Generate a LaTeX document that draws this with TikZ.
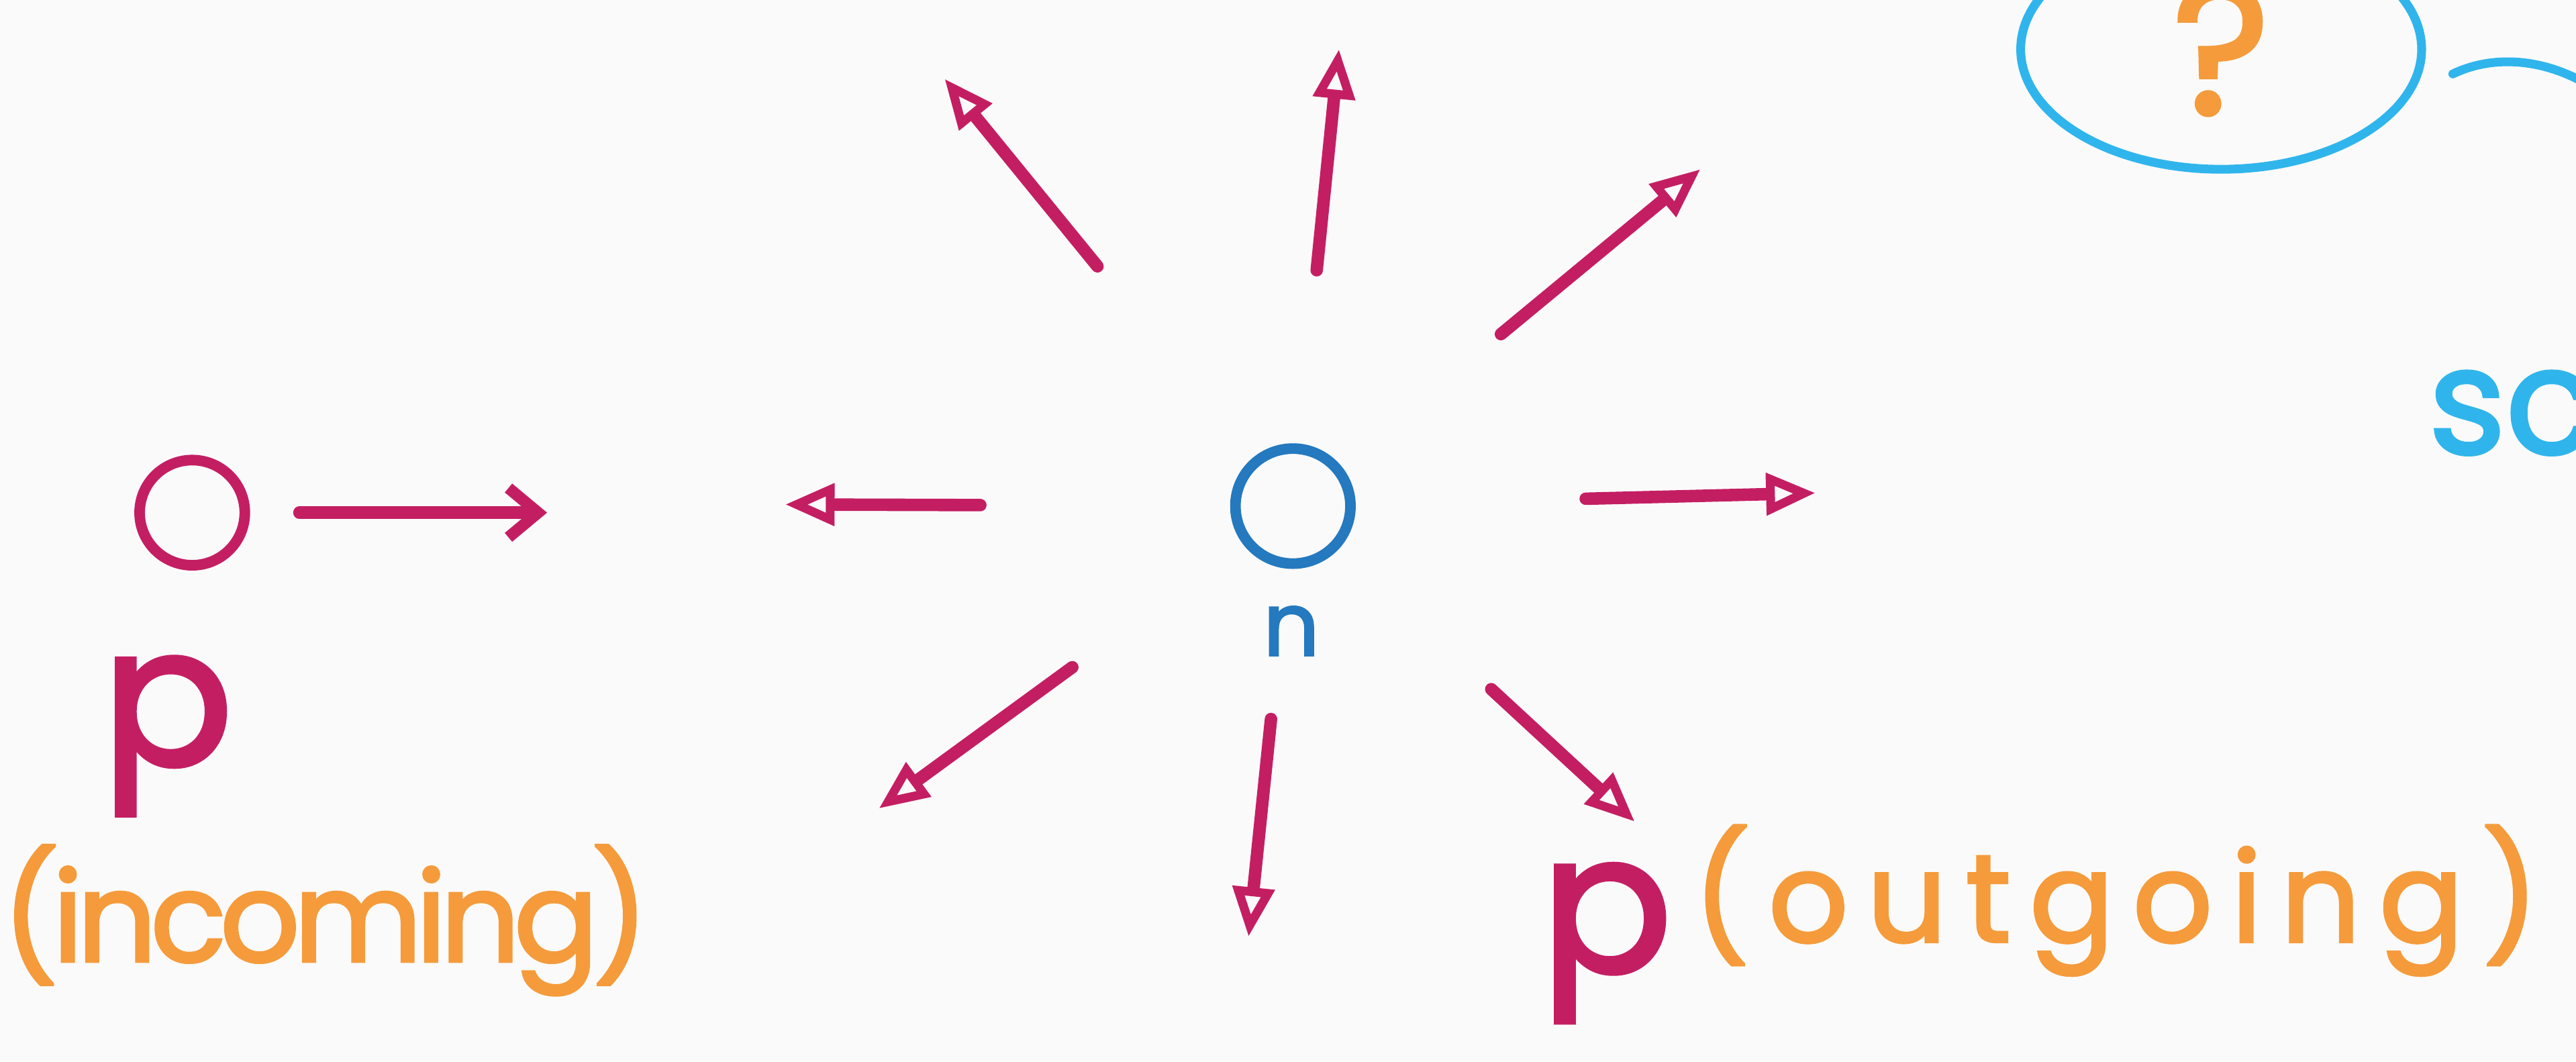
\documentclass[tikz,border=0pt]{standalone}
\usepackage{fontspec}
\setmainfont{Poppins}
\usetikzlibrary{positioning,arrows.meta,shapes.geometric}
\definecolor{paper}{HTML}{FBFAFA}
\definecolor{berry}{HTML}{C41E63}
\definecolor{tangerine}{HTML}{F59B3B}
\definecolor{navy}{HTML}{2479BF}
\definecolor{sky}{HTML}{2FB5EC}
\newfontfamily\handfont[FakeBold=2.2]{Poppins}

\begin{document}
\begin{tikzpicture}[
    x=0.025cm, y=-0.025cm,
    vertex/.style={draw, circle, line width=4.6pt, minimum size=1.75cm, inner sep=0pt},
    tag/.style={text=tangerine, inner sep=0pt},
    letter/.style={font=\fontsize{84}{100}\handfont, text=berry, inner sep=0pt},
    ray/.style={-{Triangle[open, length=0.75cm, width=0.62cm, line width=3.8pt]}, line width=5.4pt, draw=berry, line cap=round},
    inarrow/.style={-{Straight Barb[length=0.45cm, width=0.75cm, line width=5pt]}, line width=5.4pt, draw=berry, line cap=round},
    qline/.style={draw=sky, line width=3.8pt, line cap=round}
  ]
    \useasboundingbox (0,0) rectangle (1568,646);
    \clip (0,0) rectangle (1568,646);
    \fill[paper] (0,0) rectangle (1568,646);

    % incoming side
    \node[vertex, draw=berry, minimum size=1.6cm] (p) at (117,312) {};
    \node[letter] (pin) at (102,448) {p};
    \node[tag, font=\fontsize{54}{60}\handfont\addfontfeature{LetterSpace=-5}] (incoming) at (198,560) {(incoming)};
    \coordinate (inend) at (333,312);
    \draw[inarrow, shorten <=0.75cm] (p) -- (inend);

    % centre vertex
    \node[vertex, draw=navy] (n) at (787,308) {};
    \node[font=\fontsize{38}{40}\handfont, text=navy, inner sep=0pt] (nlabel) at (786,384) {n};

    \coordinate (tipul) at (575,48);
    \coordinate (tipu) at (815,30);
    \coordinate (tipur) at (1035,103);
    \coordinate (tipr) at (1105,300);
    \coordinate (tipdr) at (995,500);
    \coordinate (tipd) at (760,570);
    \coordinate (tipdl) at (535,492);
    \coordinate (tipl) at (478,307);

    \draw[ray, shorten <=3.75cm] (n) -- (tipul);
    \draw[ray, shorten <=2.65cm] (n) -- (tipu);
    \draw[ray, shorten <=3.15cm] (n) -- (tipur);
    \draw[ray, shorten <=3.5cm] (n) -- (tipr);
    \draw[ray, shorten <=3.15cm] (n) -- (tipdr);
    \draw[ray, shorten <=2.3cm] (n) -- (tipd);
    \draw[ray, shorten <=3.2cm] (n) -- (tipdl);
    \draw[ray, shorten <=3.8cm] (n) -- (tipl);

    % outgoing side
    \node[letter] (pout) at (978,574) {p};
    \node[tag, font=\fontsize{54}{60}\handfont\addfontfeature{LetterSpace=15}] (outgoing) at (1288,548) {(outgoing)};

    % top right corner
    \node[draw=sky, ellipse, line width=3.8pt, minimum width=6.1cm, minimum height=3.65cm, inner sep=0pt,
      text=tangerine, font=\fontsize{80}{84}\handfont] (q) at (1352,30) {?};
    \coordinate (qa) at (1493,45);
    \coordinate (qb) at (1585,58);
    \draw[qline] (qa) .. controls (1520,32) and (1555,36) .. (qb);
    \node[anchor=base west, text=sky, font=\fontsize{64}{70}\handfont, inner sep=0pt] (sc) at (1478,276) {sc};
  \end{tikzpicture}
\end{document}
